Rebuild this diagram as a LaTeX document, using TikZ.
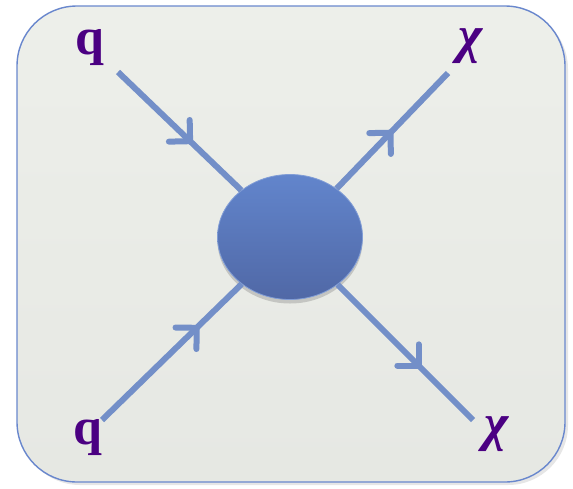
\documentclass[tikz,border=0pt]{standalone}
\usepackage{fontspec}
\newfontfamily\labelfont{Liberation Serif}
\usepackage{tikz}
\usetikzlibrary{arrows.meta, positioning, calc, shapes.geometric, shadows, decorations.markings}
\usepackage{xcolor}

\definecolor{lineblue}{RGB}{115,143,200}
\definecolor{frameblue}{RGB}{105,135,205}
\definecolor{blobtop}{RGB}{98,133,204}
\definecolor{blobbot}{RGB}{80,104,166}
\definecolor{labelpurple}{RGB}{75,0,130}
\definecolor{cardfill}{RGB}{237,239,234}

\begin{document}
\begin{tikzpicture}[
  x=1pt, y=-1pt,
  card/.style={draw=frameblue, line width=1.4pt, rounded corners=60pt,
    top color=cardfill, bottom color=cardfill!97!black,
    drop shadow={shadow xshift=3pt, shadow yshift=-3pt, opacity=0.2},
    minimum width=548pt, minimum height=476pt, inner sep=0pt},
  blob/.style={ellipse, draw=blobtop!80!white, line width=0.8pt,
    top color=blobtop, bottom color=blobbot,
    drop shadow={shadow xshift=0pt, shadow yshift=-4pt, opacity=0.35},
    minimum width=145pt, minimum height=125pt, inner sep=0pt},
  lbl/.style={text=labelpurple, font=\labelfont\bfseries\fontsize{52}{52}\selectfont, inner sep=0pt},
  prop/.style={draw=lineblue, line width=6pt, postaction={decorate},
    decoration={markings, mark=at position #1 with
      {\arrow[line width=6pt]{Straight Barb[length=15pt, width=30pt, line cap=round]}}}}
]
\useasboundingbox (0,0) rectangle (573,488);

% frame
\node[card] (frame) at (291,244) {};

% incoming quarks and outgoing dark matter
\coordinate (qin1) at (118,72);
\coordinate (qin2) at (102,420);
\coordinate (xout1) at (448,73);
\coordinate (xout2) at (473,420);

\node[lbl] (q1) at (90,48) {q};
\node[lbl] (q2) at (88,438) {q};
\node[lbl] (chi1) at (471,46) {\itshape χ};
\node[lbl] (chi2) at (497,434) {\itshape χ};

% vertex
\node[blob] (vertex) at (290,237) {};

\draw[prop=0.61] (qin1) -- (vertex);
\draw[prop=0.70] (qin2) -- (vertex);
\draw[prop=0.51] (vertex) -- (xout1);
\draw[prop=0.62] (vertex) -- (xout2);

\end{tikzpicture}
\end{document}
